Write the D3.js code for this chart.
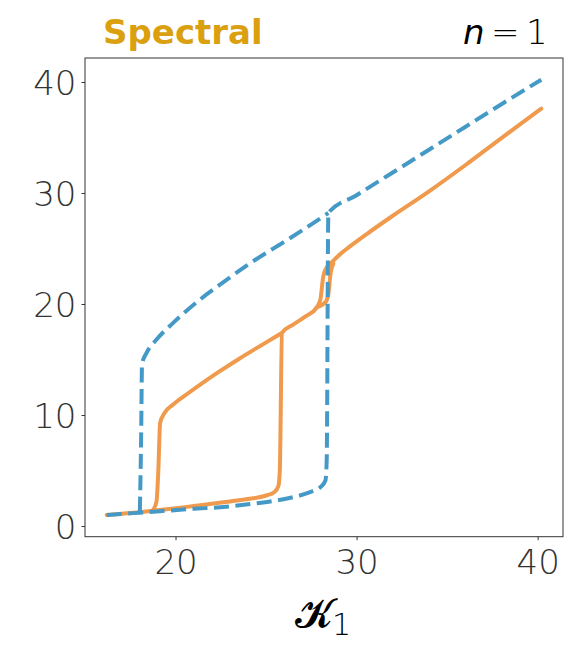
<!DOCTYPE html>
<html><head><meta charset="utf-8">
<script src="https://cdn.jsdelivr.net/npm/d3@7"></script>
<style>body{margin:0;background:#fff}</style>
</head><body>
<svg id="c" width="580" height="646"></svg>
<script>
// Data
const xTicks = [20, 30, 40];
const yTicks = [0, 10, 20, 30, 40];
// Blue dashed: lower branch with jump up at ~28.4, continuing upper branch
const blueLower = [[16.2,1.0],[17,1.08],[18.2,1.23],[19.5,1.38],[21,1.55],[22.8,1.74],[24.1,1.98],[25.4,2.25],[26.5,2.6],[27.43,3.05],[28.0,3.5],[28.28,4.1],[28.35,6],[28.44,28.2],[30,29.8],[32,31.85],[34,33.9],[36,35.95],[38,38.0],[40.2,40.2]];
// Blue dashed: upper branch (backward sweep) from jump at ~18.1
const blueUpper = [[18.03,1.3],[18.1,8],[18.15,14.6],[18.4,15.6],[18.95,16.8],[19.87,18.3],[21.35,20.4],[22.8,22.15],[24.1,23.65],[25.95,25.55],[27.06,26.7],[28.44,28.2]];
// Orange solid: lower branch, jump at ~25.8, middle branch, small loop, upper branch
const orangeForward = [[16.2,1.0],[17,1.1],[18,1.25],[19,1.42],[20,1.6],[21,1.8],[22,2.0],[23,2.22],[24.1,2.45],[25.0,2.75],[25.45,3.05],[25.68,3.6],[25.76,5],[25.88,17.4],[26.5,18.15],[27.2,18.9],[27.8,19.7],[28.0,20.4],[28.16,22.5],[28.35,23.3],[28.6,23.7],[29.0,24.35],[29.6,25.15],[30.6,26.35],[32,27.95],[34,30.15],[36,32.5],[38,34.95],[40.2,37.6]];
const orangeLoop = [[27.8,19.7],[28.3,20.2],[28.45,21.0],[28.55,22.6],[28.72,23.65]];
const orangeUpper = [[18.76,1.45],[18.95,2.2],[19.05,5],[19.15,9.3],[19.4,10.2],[19.87,10.95],[20.6,11.85],[21.5,12.9],[22.45,13.95],[23.5,15.05],[24.5,16.05],[25.88,17.4]];

const L = 85, R = 563, T = 58, B = 536.7;
const svg = d3.select('#c');
const all = [].concat(blueLower, blueUpper, orangeForward, orangeUpper);
const xe = d3.extent(all, d => d[0]), ye = d3.extent(all, d => d[1]);
const xp = (xe[1]-xe[0])*0.05, yp = (ye[1]-ye[0])*0.05;
const x = d3.scaleLinear().domain([xe[0]-xp, xe[1]+xp]).range([L, R]);
const y = d3.scaleLinear().domain([ye[0]-yp, ye[1]+yp]).range([B, T]);

const line = d3.line().x(d => x(d[0])).y(d => y(d[1])).curve(d3.curveMonotoneX);

const BLUE = '#4599c6', ORANGE = '#ef9a4c';
const g = svg.append('g');
function drawLine(data, color, dash) {
  g.append('path').datum(data).attr('d', line)
    .attr('fill', 'none').attr('stroke', color).attr('stroke-width', 4)
    .attr('stroke-linejoin', 'round').attr('stroke-linecap', dash ? 'butt' : 'round')
    .attr('stroke-dasharray', dash ? '15 6.5' : null);
}
drawLine(orangeForward, ORANGE, false);
drawLine(orangeLoop, ORANGE, false);
drawLine(orangeUpper, ORANGE, false);
drawLine(blueLower, BLUE, true);
drawLine(blueUpper, BLUE, true);

// Axes
const ax = svg.append('g').attr('transform', `translate(0,${B})`)
  .call(d3.axisBottom(x).tickValues(xTicks).tickSize(3.5).tickPadding(8).tickFormat(d3.format('d')));
const ay = svg.append('g').attr('transform', `translate(${L},0)`)
  .call(d3.axisLeft(y).tickValues(yTicks).tickSize(3.5).tickPadding(5).tickFormat(d3.format('d')));
[ax, ay].forEach(a => {
  a.select('.domain').remove();
  a.selectAll('.tick line').attr('stroke', '#333').attr('stroke-width', 1);
  a.selectAll('.tick text').attr('fill', '#333').style('font-family', 'DejaVu Sans').style('font-weight', '200').style('font-size', '34px');
});
ay.selectAll('.tick text').attr('dy', '0.36em');
ax.selectAll('.tick text').attr('dy', '0.76em');

svg.append('rect').attr('x', L).attr('y', T).attr('width', R-L).attr('height', B-T)
  .attr('fill', 'none').attr('stroke', '#333').attr('stroke-width', 1);

// Titles
svg.append('text').attr('x', 103).attr('y', 43.5).text('Spectral')
  .style('font-family', 'DejaVu Sans').style('font-weight', 'bold').style('font-size', '34px').attr('fill', '#daa010');
const t = svg.append('text').attr('y', 43.5)
  .style('font-family', 'DejaVu Sans').style('font-size', '34px').attr('fill', '#000');
t.append('tspan').attr('x', 463).text('n').style('font-style', 'italic');
t.append('tspan').attr('x', 491).text('=').style('font-weight', '200');
t.append('tspan').attr('x', 526).text('1').style('font-weight', '200');

// x label
const xl = svg.append('text').attr('x', 323).attr('y', 627).attr('text-anchor', 'middle').attr('fill', '#000');
xl.append('tspan').text('𝓚').style('font-family', 'DejaVu Serif, DejaVu Sans').style('font-size', '40px');
xl.append('tspan').text('1').attr('dy', 8).style('font-family', 'DejaVu Sans').style('font-weight', '200').style('font-size', '30px');
</script>
</body></html>
